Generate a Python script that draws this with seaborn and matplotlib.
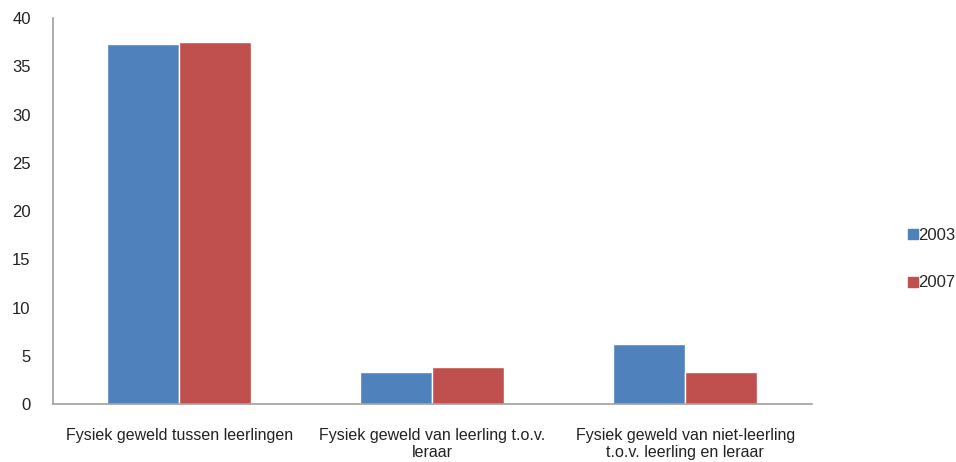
import pandas as pd
import matplotlib.pyplot as plt
import seaborn as sns
from matplotlib.lines import Line2D

categories = ["Fysiek geweld tussen leerlingen",
              "Fysiek geweld van leerling t.o.v.\nleraar",
              "Fysiek geweld van niet-leerling\nt.o.v. leerling en leraar"]
years = ["2003", "2007"]
values_2003 = [37.3, 3.3, 6.2]
values_2007 = [37.5, 3.8, 3.3]
colors = ["#4F81BD", "#C0504D"]


def main():
    df = pd.DataFrame({
        "categorie": categories * 2,
        "jaar": [years[0]] * 3 + [years[1]] * 3,
        "waarde": values_2003 + values_2007,
    })

    sns.set_style("white")
    plt.rcParams["font.family"] = ["Liberation Sans", "DejaVu Sans"]

    fig = plt.figure(figsize=(9.56, 4.62), dpi=100)
    ax = fig.add_axes([0.0554, 0.1255, 0.7936, 0.8355])

    sns.barplot(data=df, x="categorie", y="waarde", hue="jaar",
                palette=colors, width=0.57, saturation=1, ax=ax, legend=False)

    ax.set_ylim(0, 40)
    ax.set_xlim(-0.5, 2.5)
    ax.set_yticks(range(0, 41, 5))
    ax.set_xlabel("")
    ax.set_ylabel("")
    ax.tick_params(axis="y", labelsize=12, length=0, pad=16, colors="#222222")
    ax.tick_params(axis="x", labelsize=11.5, length=0, pad=17, colors="#222222")
    for lbl in ax.get_xticklabels():
        lbl.set_linespacing(1.22)

    for side in ["top", "right"]:
        ax.spines[side].set_visible(False)
    for side in ["left", "bottom"]:
        ax.spines[side].set_color("#A0A0A0")
        ax.spines[side].set_linewidth(1.2)

    handles = [Line2D([], [], marker="s", linestyle="", markersize=7,
                      markerfacecolor=c, markeredgecolor=c) for c in colors]
    fig.legend(handles, years, loc="center left", bbox_to_anchor=(0.9463, 0.439),
               frameon=False, fontsize=12, labelspacing=1.95,
               handlelength=0.6, handletextpad=0.0, borderaxespad=0,
               borderpad=0.2)

    fig.savefig("out.png", dpi=100)


main()
